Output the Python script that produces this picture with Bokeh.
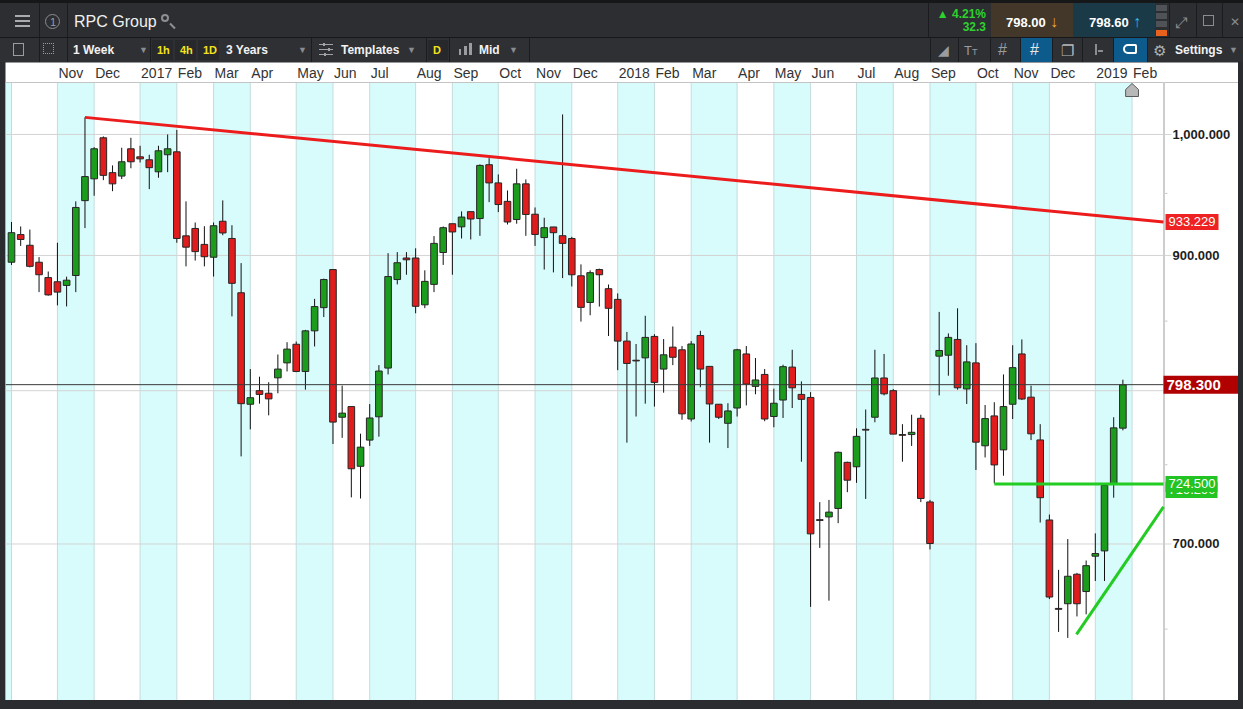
import math
import pandas as pd
from bokeh.plotting import figure
from bokeh.models import Range1d, Div, ColumnDataSource
from bokeh.core.properties import value
from bokeh.layouts import column
from bokeh.embed import file_html
from bokeh.resources import INLINE

# ---------------- data ----------------
FIRST_WEEK = "2016-10-01"   # weekly candles (week stamps)
N_SLOTS = 126               # weeks on the time axis incl. empty future slots

OPEN = [894.7, 916.5, 908, 894.7, 882.8, 879.6, 876.8, 884.4, 944, 962.1,
        997.1, 967.3, 964.4, 987.6, 980.7, 978.2, 968, 982.5, 985, 915.5,
        921.4, 908.7, 898.6, 927.2, 913.4, 871.2, 790.6, 800, 798.2, 809,
        819.6, 833, 813.5, 842.8, 860, 889, 781.7, 789, 749, 766.3,
        782, 815.9, 881.3, 898, 898, 862.1, 877.6, 902.3, 925.2, 922.7,
        935, 929.4, 974, 958.7, 943.4, 928.6, 957.9, 932.9, 914.1, 922.6,
        915.6, 913.4, 884.2, 863.9, 889, 874.3, 866.2, 835.3, 821.5, 823.2,
        838.7, 815.2, 830.9, 829, 780.5, 839.4, 817.1, 790.6, 777.6, 788,
        826, 803, 811.4, 782.2, 793.5, 816.6, 797.4, 795.3, 715, 716.7,
        722, 751.6, 748.7, 773.5, 781.7, 808.9, 800, 770, 770, 781,
        726.1, 824.4, 825.1, 836.5, 801.2, 819.6, 762.5, 782.6, 759.8, 790.6,
        826, 795.5, 766.4, 714.8, 661.8, 664.5, 681.8, 671.6, 692.6, 695.8,
        737.5, 774.3]
HIGH = [926.6, 923, 920.5, 898.7, 887.5, 910, 883.5, 943.4, 1015, 989,
        998.3, 973.4, 988.5, 997.1, 990.2, 982.5, 990.2, 1000, 1004, 943.4,
        926.2, 923.2, 926.2, 944.2, 924, 894, 815.2, 809.8, 805.9, 825.6,
        834.5, 835, 843.5, 866.6, 882, 889, 803.5, 789, 770.6, 790.7,
        818, 901.8, 902.6, 902.6, 905.6, 888.4, 915.3, 923, 925.2, 935.2,
        935, 974.3, 979.6, 965.8, 952.4, 970.6, 961.6, 938.4, 930, 922.6,
        1017.6, 914.7, 893, 888.4, 889.7, 877.5, 870.7, 842, 833.2, 853.9,
        840.3, 836.8, 846, 831.7, 835.3, 842.8, 817.1, 790.6, 791.3, 829.7,
        831.7, 823.1, 815.2, 801.4, 818.3, 829, 806.5, 799, 726, 727.4,
        758.7, 752, 774.2, 787, 829, 826, 801.1, 777, 783.4, 783.4,
        727.4, 856.8, 840.9, 859.5, 832.3, 833.8, 790.1, 792, 811.4, 832.3,
        836.5, 803.5, 777, 718.2, 684.4, 703, 682.6, 690, 706.5, 737,
        781.7, 807.7]
LOW = [892.6, 907.5, 890.7, 871.7, 869, 861.7, 860.9, 871.7, 921.7, 948,
       961, 951.8, 961.9, 971, 975.9, 953.5, 963, 967.7, 910, 891.5,
       896, 891.5, 883.6, 916, 853.5, 755.5, 773.5, 791, 783, 798.2,
       813.5, 813, 800.7, 831.4, 853, 763.7, 767.8, 729, 728.3, 762.4,
       768.6, 811.4, 877.6, 885, 855.8, 859.6, 871.7, 892.6, 885, 913.4,
       912.6, 915.5, 942.8, 934.6, 924.6, 925.2, 915.5, 907.5, 889, 886.8,
       882.4, 876, 849.6, 854.3, 860.8, 839, 814.4, 764.6, 782.2, 791,
       789, 798.6, 818, 780, 778.8, 802.4, 764.6, 780.5, 761, 782.2,
       789.8, 797.5, 779, 774.9, 781.2, 788, 752, 662.7, 697.6, 666.3,
       712.8, 732.3, 738.3, 728, 778.3, 796.7, 770.3, 752, 762.4, 726,
       696.7, 796.7, 810.5, 800.7, 790.8, 746.6, 754.8, 737.9, 742.9, 780.5,
       793.5, 766.3, 713.2, 667.2, 648.4, 645, 657.2, 658.4, 677.8, 677.8,
       728.8, 772.8]
CLOSE = [918, 912.6, 891.5, 885, 869.6, 871.7, 880.8, 938.4, 964, 987.6,
         965, 957.9, 976.5, 976.5, 979, 971.5, 985.9, 987.6, 913.4, 906.5,
         903, 899, 923.6, 917.8, 878.4, 791, 795.1, 797.4, 794.3, 815.2,
         829.5, 813.5, 842.8, 860.8, 881.3, 778.4, 784.5, 747.4, 761.6, 781.2,
         813.8, 883.6, 894.3, 896.6, 861, 879.9, 909.5, 922, 918.6, 930.6,
         929, 973.4, 958.7, 940.8, 926.6, 957.9, 932.7, 916.6, 922, 918,
         909.5, 885, 860.2, 886.6, 885, 859.5, 835.3, 819.2, 821, 838,
         805.8, 825.4, 823.6, 784, 833.2, 815.2, 790.8, 781.7, 786, 829,
         804.6, 807.5, 780.5, 791.3, 816.9, 802, 794, 706.2, 714.5, 719.7,
         758.2, 740, 768.8, 773, 808.9, 797.8, 770.3, 769.5, 771.5, 728.3,
         700.3, 828.5, 838, 802, 820.3, 764.9, 780.8, 749.9, 789, 816.2,
         794.2, 770.5, 728.8, 668.4, 661.3, 680.6, 664.5, 686.9, 694.2, 736.6,
         774.5, 804.1]

TREND_RED = (8, 1015.0, 926.6)        # start week, start price, price at chart's right edge
SUPPORT_FLAT = (107, 737.6)           # start week, price
SUPPORT_RISING = (115.95, 647.0, 723.0)
PRICE_LINE = 804.2
TAG_RED, TAG_LAST, TAG_FLAT, TAG_RISING = "933.229", "798.300", "724.500", "719.290"

Y_TICKS = [700, 800, 900, 1000]
Y_MINOR = [650, 750, 850, 950]
Y_TICK_LABELS = ["700.000", "", "900.000", "1,000.000"]
MONTH_ABBR = ["Jan", "Feb", "Mar", "Apr", "May", "Jun", "Jul", "Aug", "Sep", "Oct", "Nov", "Dec"]

# ---------------- view geometry ----------------
FONT = "Liberation Sans"
W, H = 1233, 638            # whole chart canvas, page x 5..1238, y 62..700
AXIS_PX = 1158              # price axis line, px from the canvas left
ROW_PX = 20                 # month row height on top
X_MIN = -0.653
PXU = 9.185                 # px per week
X_END = X_MIN + W / PXU
X_AX = X_MIN + AXIS_PX / PXU
Y_BOT, Y_TOP = 610.8, 1046.3            # price at bottom / top of the candle area
K = math.log(Y_TOP / Y_BOT) / (H - ROW_PX)   # log-price per px
Y_END = Y_TOP * math.exp(K * ROW_PX)

def xs(px):   # x data position px right of the price axis line
    return X_AX + px / PXU

def ys(v, px):  # price moved px up on screen
    return v * math.exp(K * px)

n = len(OPEN)
idx = list(range(n))
weeks = pd.date_range(FIRST_WEEK, periods=N_SLOTS, freq="7D")
up = [c >= o for o, c in zip(OPEN, CLOSE)]
src = ColumnDataSource(dict(
    x=idx, h=HIGH, l=LOW,
    top=[max(o, c) for o, c in zip(OPEN, CLOSE)],
    bot=[min(o, c) for o, c in zip(OPEN, CLOSE)],
    col=["#1c9c1c" if u else "#e01c1c" for u in up]))

CYAN = "#d8fbfc"
starts = [0] + [i for i in range(1, N_SLOTS) if weeks[i].month != weeks[i - 1].month]
band_l, band_r, band_c = [X_MIN], [0], [CYAN if (weeks[0].month - 1) % 2 == 1 else "white"]
for k, s in enumerate(starts):
    if s >= X_AX:
        break
    r = min(starts[k + 1], X_AX) if k + 1 < len(starts) else X_AX
    band_l.append(s)
    band_r.append(r)
    band_c.append(CYAN if weeks[s].month % 2 == 1 else "white")

p = figure(width=W, height=H, frame_width=W, frame_height=H,
           x_range=Range1d(X_MIN, X_END), y_range=Range1d(Y_BOT, Y_END),
           y_axis_type="log", x_axis_location=None, y_axis_location=None,
           output_backend="svg", toolbar_location=None,
           min_border=0, min_border_left=0, min_border_right=0, min_border_top=0, min_border_bottom=0,
           background_fill_color="white", border_fill_color="white",
           outline_line_color=None, margin=(0, 0, 0, 5))
p.xgrid.visible = False
p.ygrid.visible = False

# month bands, separators and price grid
p.quad(left=band_l, right=band_r, top=Y_TOP, bottom=Y_BOT, fill_color=band_c, line_color=None)
vs = [s for s in starts if s < X_AX]
p.segment(x0=vs, y0=[Y_BOT] * len(vs), x1=vs, y1=[Y_TOP] * len(vs),
          line_color="#c5dcdd", line_width=1)
p.segment(x0=[X_MIN] * len(Y_TICKS), y0=Y_TICKS, x1=[xs(8)] * len(Y_TICKS), y1=Y_TICKS,
          line_color="#d4d4d4", line_width=1)
p.segment(x0=[X_AX] * len(Y_MINOR), y0=Y_MINOR, x1=[xs(4)] * len(Y_MINOR), y1=Y_MINOR,
          line_color="#c8c8c8", line_width=1)
p.segment(x0=[X_MIN], y0=[Y_TOP], x1=[X_END], y1=[Y_TOP], line_color="#c4c4c4", line_width=1)
p.segment(x0=[xs(0.5)], y0=[Y_BOT], x1=[xs(0.5)], y1=[Y_TOP], line_color="#cdcdcd", line_width=2)

# price scale labels
p.text(x=[X_AX] * len(Y_TICKS), y=Y_TICKS, text=Y_TICK_LABELS, x_offset=9,
       text_baseline="middle", text_align="left", text_font=value(FONT),
       text_font_size=value("13px"), text_font_style=value("bold"), text_color="#1e1e1e")

# month labels
ml_x, ml_t = [], []
for s in starts[1:]:
    if s >= X_AX:
        continue
    d = weeks[s]
    ml_x.append(s)
    ml_t.append(str(d.year) if d.month == 1 else MONTH_ABBR[d.month - 1])
p.text(x=ml_x, y=[ys(Y_TOP, ROW_PX / 2)] * len(ml_x), text=ml_t, x_offset=1,
       text_baseline="middle", text_align="left", text_font=value(FONT),
       text_font_size=value("14px"), text_color="#333333")

# candles
p.segment(x0="x", y0="l", x1="x", y1="h", source=src, line_color="#111111", line_width=1)
p.vbar(x="x", width=0.72, top="top", bottom="bot", source=src,
       fill_color="col", line_color="#262626", line_width=1)

# reference lines
p.segment(x0=[X_MIN], y0=[PRICE_LINE], x1=[X_AX], y1=[PRICE_LINE], line_color="#3a3a3a", line_width=1)
p.line([TREND_RED[0], X_AX], [TREND_RED[1], TREND_RED[2]], line_color="#ec1c1c", line_width=3)
p.line([SUPPORT_FLAT[0], X_AX], [SUPPORT_FLAT[1], SUPPORT_FLAT[1]], line_color="#22cc22", line_width=3)
p.line([SUPPORT_RISING[0], X_AX], [SUPPORT_RISING[1], SUPPORT_RISING[2]], line_color="#22cc22", line_width=3)

# "latest" marker at the first future slot
mx = n
p.patch([mx - 0.7, mx - 0.7, mx, mx + 0.7, mx + 0.7],
        [ys(Y_TOP, -14), ys(Y_TOP, -7), ys(Y_TOP, -1), ys(Y_TOP, -7), ys(Y_TOP, -14)],
        fill_color="#b8b8b8", line_color="#5a5a5a", line_width=1)

# price tags on the scale
def tag(y, text, bg, size, left_px, w_px, h_px, bold=False):
    p.rect(x=[xs(left_px + w_px / 2)], y=[y], width=w_px, height=h_px,
           width_units="screen", height_units="screen", fill_color=bg, line_color=None)
    p.text(x=[xs(left_px)], y=[y], text=[text], x_offset=3, text_baseline="middle",
           text_align="left", text_font=value(FONT), text_font_size=value(f"{size}px"),
           text_font_style=value("bold" if bold else "normal"), text_color="white")

tag(TREND_RED[2], TAG_RED, "#ee2222", 13, 2, 53, 16)
tag(ys(SUPPORT_FLAT[1], -6), TAG_RISING, "#22c322", 13, 2, 52, 16)
tag(SUPPORT_FLAT[1], TAG_FLAT, "#22c322", 13, 2, 52, 16)
tag(PRICE_LINE, TAG_LAST, "#b00000", 15, 0, 75, 18, bold=True)

# ---------------- header (platform toolbar) ----------------
def bx(l, t, w, h, bg="transparent", extra=""):
    return (f'<div style="position:absolute;left:{l}px;top:{t}px;width:{w}px;height:{h}px;'
            f'background:{bg};{extra}"></div>')

def tx(l, cy, s, color="#f0f0f0", size=12, weight="normal", extra=""):
    return (f'<div style="position:absolute;left:{l}px;top:{cy - size / 2}px;color:{color};'
            f'font-size:{size}px;font-weight:{weight};line-height:{size}px;white-space:nowrap;{extra}">{s}</div>')

SEP = "#1b1c1f"
WT = "#f2f2f2"
parts = [bx(0, 0, 1243, 3, "#161719"), bx(0, 3, 1243, 34, "#2c2e32"), bx(0, 37, 1243, 1, "#17181a"),
         bx(0, 38, 1243, 24, "#2e3034")]
for t in (15, 20, 25):
    parts.append(bx(15, t, 15, 2, "#a9abb0"))
parts += [bx(39, 3, 1, 34, SEP),
          bx(45, 14, 15, 15, "transparent", "border:1px solid #8a8c90;border-radius:50%;"),
          tx(50, 22, "1", "#9a9ca0", 11),
          bx(67, 3, 1, 34, SEP),
          tx(74, 22, "RPC Group", "#f0f0f0", 16),
          bx(161, 14, 8, 8, "transparent", "border:2px solid #8d8f93;border-radius:50%;"),
          bx(169, 25, 7, 2, "#8d8f93", "transform:rotate(45deg);"),
          bx(928, 3, 1, 34, SEP),
          tx(930, 14, "&#9650; 4.21%", "#2fd12f", 12, "bold", "width:56px;text-align:right;"),
          tx(930, 27, "32.3", "#2fd12f", 12, "bold", "width:56px;text-align:right;"),
          bx(991, 3, 82, 34, "#433729"),
          tx(1006, 22, "798.00", "#ffffff", 13, "bold"),
          tx(1050, 22, "&#8595;", "#f0a22c", 16, "bold"),
          bx(1073, 3, 82, 34, "#1b3a47"),
          tx(1089, 22, "798.60", "#ffffff", 13, "bold"),
          tx(1133, 22, "&#8593;", "#38b6e0", 16, "bold")]
for t in (5, 13, 21):
    parts.append(bx(1156, t, 11, 6, "#4f5257"))
parts += [bx(1156, 30, 11, 6, "#e8621d"), bx(1169, 3, 1, 34, SEP),
          tx(1175, 22, "&#10530;", "#8a8c90", 15),
          bx(1196, 3, 1, 34, SEP),
          bx(1203, 15, 11, 11, "transparent", "border:1px solid #8a8c90;"),
          bx(1222, 3, 1, 34, SEP),
          tx(1230, 22, "&#10005;", "#8a8c90", 12)]
# second bar
parts += [bx(13, 43, 11, 13, "transparent", "border:1px solid #9a9ca0;"),
          bx(39, 38, 1, 24, SEP),
          bx(43, 43, 11, 11, "transparent", "border:1px dotted #9a9ca0;"),
          bx(67, 38, 1, 24, SEP),
          tx(73, 50, "1 Week", WT, 12, "bold"),
          tx(139, 50, "&#9660;", "#8a8c90", 9),
          bx(150, 38, 1, 24, SEP)]
for l, s in ((152, "1h"), (175, "4h"), (198, "1D")):
    parts += [bx(l, 40, 21, 20, "#26282b"), tx(l + 5, 50, s, "#f3e21b", 11, "bold")]
parts += [tx(226, 50, "3 Years", WT, 12, "bold"), tx(298, 50, "&#9660;", "#8a8c90", 9),
          bx(311, 38, 1, 24, SEP)]
for t in (44, 49, 54):
    parts.append(bx(319, t, 14, 1, "#a0a2a6"))
parts += [bx(323, 43, 2, 3, "#a0a2a6"), bx(328, 48, 2, 3, "#a0a2a6"), bx(324, 53, 2, 3, "#a0a2a6"),
          tx(341, 50, "Templates", WT, 12, "bold"), tx(407, 50, "&#9660;", "#8a8c90", 9),
          bx(426, 38, 1, 24, SEP), bx(428, 40, 20, 20, "#26282b"),
          tx(433, 50, "D", "#f3e21b", 11, "bold"), bx(449, 38, 1, 24, SEP),
          bx(459, 49, 2, 6, "#9a9ca0"), bx(464, 46, 3, 9, "#9a9ca0"), bx(469, 43, 3, 12, "#9a9ca0"),
          tx(479, 50, "Mid", WT, 12, "bold"), tx(509, 50, "&#9660;", "#8a8c90", 9),
          bx(529, 38, 1, 24, SEP)]
for l in (930, 958, 990, 1020, 1052, 1082, 1113, 1147):
    parts.append(bx(l, 38, 1, 24, SEP))
parts += [tx(938, 50, "&#9698;", "#9a9ca0", 14),
          tx(964, 50, "T<span style='font-size:9px'>T</span>", "#9a9ca0", 13),
          tx(998, 50, "#", "#9a9ca0", 16),
          bx(1021, 38, 31, 24, "#0d5b8c"), tx(1030, 50, "#", "#e6e6e6", 16),
          tx(1061, 50, "&#10064;", "#b8b8b8", 15),
          bx(1095, 44, 2, 11, "#8a8c90"), bx(1098, 50, 5, 2, "#8a8c90"),
          bx(1114, 38, 33, 24, "#0d5b8c"),
          bx(1123, 44, 14, 10, "transparent", "border:2px solid #ffffff;border-radius:6px 2px 2px 6px;"),
          tx(1153, 50, "&#9881;", "#b0b0b0", 15),
          tx(1175, 50, "Settings", WT, 12, "bold"),
          tx(1229, 50, "&#9660;", "#8a8c90", 9)]

header = Div(text=(f'<div style="position:relative;width:1243px;height:62px;overflow:hidden;'
                   f'font-family:\'Liberation Sans\',Arial,sans-serif;">{"".join(parts)}</div>'),
             width=1243, height=62, margin=0)
footer = Div(text='<div style="width:1243px;height:9px;background:#2a2c30;"></div>',
             width=1243, height=9, margin=0)

layout = column(header, p, footer, spacing=0, width=1243,
                styles={"background-color": "#2a2c30"})
open("out.html", "w").write(file_html(layout, INLINE))
